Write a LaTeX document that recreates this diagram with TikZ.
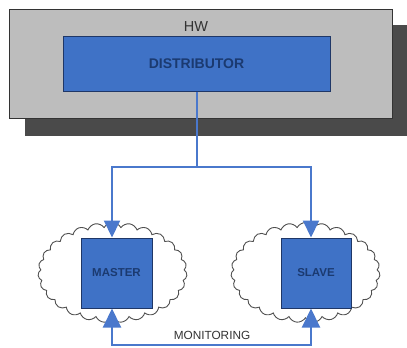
\documentclass[tikz,border=0pt]{standalone}
\usepackage{fontspec}
\setmainfont{Liberation Sans}
\usetikzlibrary{shapes.symbols,arrows.meta,calc}

\definecolor{hwgray}{HTML}{BDBDBD}
\definecolor{shadowgray}{HTML}{4A4A4A}
\definecolor{edgegray}{HTML}{333333}
\definecolor{boxblue}{HTML}{3F72C6}
\definecolor{boxedge}{HTML}{1F3767}
\definecolor{navytext}{HTML}{1B3A70}
\definecolor{linkblue}{HTML}{4A78CC}
\definecolor{cloudedge}{HTML}{505050}

\tikzset{
  unitbox/.style={draw=boxedge, line width=1pt, fill=boxblue, inner sep=0pt,
    text=navytext, font=\bfseries\fontsize{11.5}{12}\selectfont},
  puffcloud/.style={cloud, draw=cloudedge, line width=0.9pt, fill=white,
    cloud puffs=27, cloud puff arc=125, inner sep=0pt,
    minimum width=149pt, minimum height=100pt, aspect=1.49},
  link/.style={draw=linkblue, line width=2pt},
  tip/.style={-{Triangle[width=16pt,length=17pt]}},
  bigtip/.style={{Triangle[width=18pt,length=19pt]}-{Triangle[width=18pt,length=19pt]}}
}

\begin{document}
\begin{tikzpicture}[x=1pt,y=-1pt]
  \useasboundingbox (0,0) rectangle (407,348);

  % hardware chassis with its drop shadow
  \fill[shadowgray] (25,25) rectangle (407,136);
  \node[draw=edgegray, line width=1pt, fill=hwgray, minimum width=383pt,
        minimum height=109pt, inner sep=0pt] (hw) at (200.5,63.5) {};
  \node[text=edgegray, font=\fontsize{14.5}{15}\selectfont] (hwlabel) at (196,27) {HW};

  \node[draw=boxedge, line width=1pt, fill=boxblue, minimum width=267pt,
        minimum height=55pt, inner sep=0pt, text=navytext,
        font=\bfseries\fontsize{14}{15}\selectfont] (dist) at (196.5,63.5) {DISTRIBUTOR};

  % the two hosts, each in its own cloud
  \node[puffcloud] (cloudM) at (112.5,272.5) {};
  \node[puffcloud] (cloudS) at (305.5,272.5) {};
  \node[unitbox, minimum width=71pt, minimum height=70pt] (master) at (116.5,273) {MASTER};
  \node[unitbox, minimum width=70pt, minimum height=70pt] (slave) at (316,273) {SLAVE};

  % distribution lines
  \coordinate (split) at (196.5,167);
  \draw[link] (dist.south) -- (split);
  \draw[link, tip] (split) -| ([xshift=-4.5pt]master.north);
  \draw[link, tip] (split) -| ([xshift=-5pt]slave.north);

  % monitoring link along the bottom
  \coordinate (mon) at (212,345);
  \draw[link, bigtip]
    ([xshift=-4.5pt]master.south) |- (mon) -| ([xshift=-5pt]slave.south);
  \node[text=edgegray, font=\fontsize{11.8}{12}\selectfont] (monlabel) at (212,335) {MONITORING};
\end{tikzpicture}
\end{document}
